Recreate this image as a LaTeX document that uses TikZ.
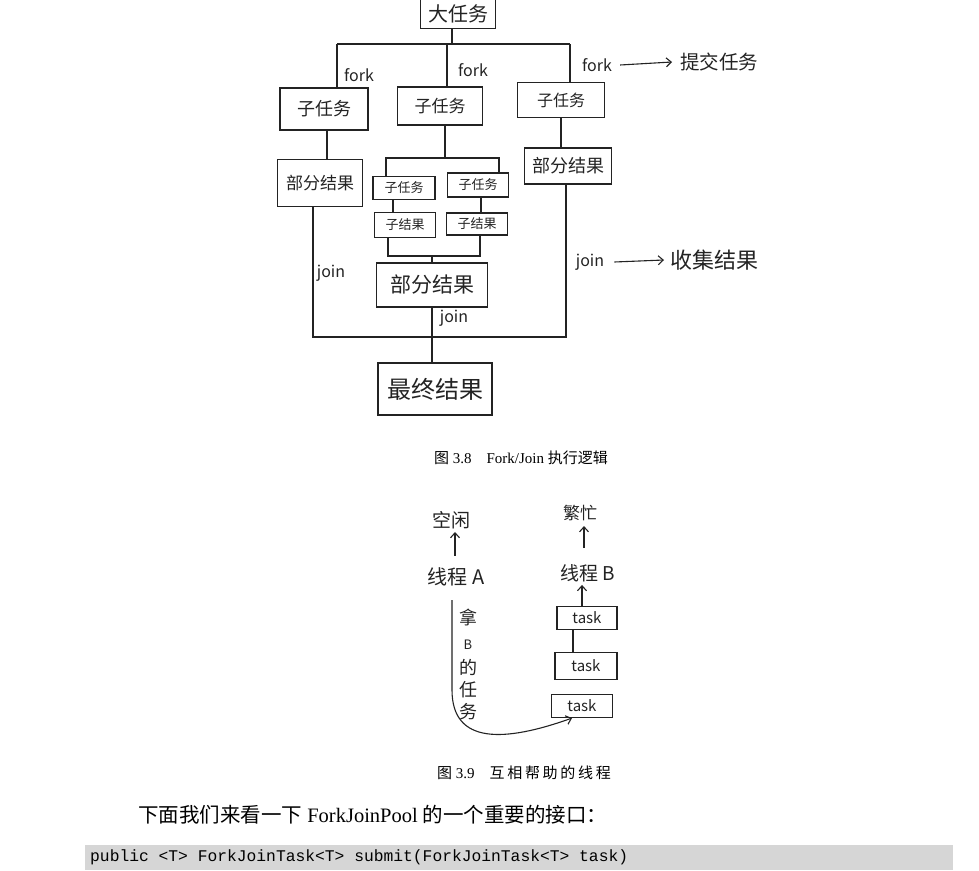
\documentclass[tikz,border=0pt]{standalone}
\usepackage{fontspec}
\setmainfont{Liberation Serif}
\setmonofont{Liberation Mono}
\newfontfamily\cjk{Noto Sans CJK SC}
\newfontfamily\cjkcap{Noto Sans CJK SC}[LetterSpace=18]
\usetikzlibrary{arrows.meta,calc}
\definecolor{ink}{RGB}{35,35,35}
\definecolor{band}{RGB}{214,214,214}
\newcommand\fsz[1]{\fontsize{#1}{#1}\selectfont}

\tikzset{
  wire/.style={draw=ink,line width=1.1pt},
  box/.style={draw=ink,line width=1.1pt,inner sep=0pt,text=ink},
  hand/.style={inner sep=0pt,text=ink},
  tip/.style={-{Straight Barb[length=5pt,width=9pt]}},
}

\begin{document}
\begin{tikzpicture}[x=1pt,y=-1pt]
\useasboundingbox (0,0) rectangle (979,870);

% ---------- Fork/Join ----------
% the big task box runs off the top edge of the page
\node[hand,minimum width=75pt,minimum height=28pt,font=\cjk\fsz{20}] (big) at (458,14) {大任务};
\draw[wire] ([yshift=20pt]big.north west) |- (big.south east) -- ([yshift=20pt]big.north east);
\coordinate (barL) at (337,44);
\coordinate (barR) at (570,44);
\draw[wire] (barL) -- (barR);
\draw[wire] ([xshift=-6pt]big.south) -- ([xshift=-6pt]big.south |- barL);

\node[box,minimum width=88pt,minimum height=42pt,font=\cjk\fsz{18}] (s1) at (324,109) {子任务};
\node[box,minimum width=85pt,minimum height=38pt,font=\cjk\fsz{17}] (s2) at (440,106) {子任务};
\node[box,minimum width=87pt,minimum height=35pt,font=\cjk\fsz{16}] (s3) at (561,100) {子任务};

\draw[wire] (barL) -- (barL |- s1.north);
\draw[wire] ([xshift=7pt]s2.north) -- ([xshift=7pt]s2.north |- barL);
\draw[wire] (barR) -- (barR |- s3.north);

\node[hand,font=\cjk\fsz{16}] (f1) at (359,75) {fork};
\node[hand,font=\cjk\fsz{16}] (f2) at (473,70) {fork};
\node[hand,font=\cjk\fsz{16}] (f3) at (597,65) {fork};
\node[hand,font=\cjk\fsz{19.5},anchor=west] (submit) at (680,62) {提交任务};
\draw[wire,tip] ([xshift=8pt]f3.east) -- ([xshift=-8pt]submit.west);

\node[box,minimum width=85pt,minimum height=47pt,font=\cjk\fsz{17}] (p1) at (320,183) {部分结果};
\node[box,minimum width=87pt,minimum height=36pt,font=\cjk\fsz{18}] (p3) at (568,166) {部分结果};
\draw[wire] ([xshift=3pt]s1.south) -- ([xshift=3pt]s1.south |- p1.north);
\draw[wire] (s3.south) -- (s3.south |- p3.north);

% inner fork of the middle sub-task
\node[box,minimum width=62pt,minimum height=23pt,font=\cjk\fsz{13}] (t1) at (404,188) {子任务};
\node[box,minimum width=61pt,minimum height=24pt,font=\cjk\fsz{13}] (t2) at (478,185) {子任务};
\node[box,minimum width=61pt,minimum height=25pt,font=\cjk\fsz{13}] (r1) at (405,225) {子结果};
\node[box,minimum width=61pt,minimum height=22pt,font=\cjk\fsz{13}] (r2) at (477,224) {子结果};
\coordinate (gTL) at (386,158);
\coordinate (gTR) at (499,158);
\draw[wire] ([xshift=5pt]s2.south) -- ([xshift=5pt]s2.south |- gTL);
\draw[wire] (gTL |- t1.north) -- (gTL) -- (gTR) -- (gTR |- t2.north);
\draw[wire] ([xshift=-11pt]t1.south) -- ([xshift=-11pt]t1.south |- r1.north);
\draw[wire] ([xshift=3pt]t2.south) -- ([xshift=3pt]t2.south |- r2.north);

\node[box,minimum width=111pt,minimum height=44pt,font=\cjk\fsz{21}] (pm) at (432,285) {部分结果};
\coordinate (bL) at (388,256);
\coordinate (bR) at (480,256);
\draw[wire] (bL |- r1.south) -- (bL) -- (bR) -- (bR |- r2.south);
\draw[wire] (bL -| pm.north) -- (pm.north);

% join
\node[box,minimum width=114pt,minimum height=52pt,font=\cjk\fsz{24}] (final) at (435,389) {最终结果};
\coordinate (jL) at (313,337);
\coordinate (jR) at (566,337);
\draw[wire] (jL |- p1.south) -- (jL) -- (jR) -- (jR |- p3.south);
\draw[wire] (pm.south) -- (pm.south |- final.north);

\node[hand,font=\cjk\fsz{16}] (j1) at (331,273) {join};
\node[hand,font=\cjk\fsz{16}] (j2) at (590,262) {join};
\node[hand,font=\cjk\fsz{16}] (j3) at (454,318) {join};
\node[hand,font=\cjk\fsz{22},anchor=west] (collect) at (670,260) {收集结果};
\draw[wire,tip] ([xshift=10pt]j2.east) -- ([xshift=-6pt]collect.west);

\node[font=\fsz{15}] (cap1) at (521,458) {{\cjk 图} 3.8\hspace{1em}Fork/Join {\cjk 执行逻辑}};

% ---------- work stealing ----------
\node[hand,font=\cjk\fsz{19}] (idle) at (451,520) {空闲};
\node[hand,font=\cjk\fsz{20}] (thA) at (456,577) {线程 A};
\node[hand,font=\cjk\fsz{17}] (busy) at (580,513) {繁忙};
\node[hand,font=\cjk\fsz{19}] (thB) at (588,573) {线程 B};
\draw[wire,tip,shorten <=12pt,shorten >=3pt] ([xshift=4pt]idle.south |- thA.north) -- ([xshift=4pt]idle.south);
\draw[wire,tip,shorten <=16pt,shorten >=5pt] ([xshift=4pt]busy.south |- thB.north) -- ([xshift=4pt]busy.south);

\node[box,minimum width=60pt,minimum height=23pt,font=\cjk\fsz{15}] (k1) at (587,618) {task};
\node[box,minimum width=62pt,minimum height=27pt,font=\cjk\fsz{15}] (k2) at (586,666) {task};
\node[box,minimum width=61pt,minimum height=23pt,font=\cjk\fsz{15}] (k3) at (582,706) {task};
\draw[wire,tip,shorten >=3pt] ([xshift=-5pt]k1.north) -- ([xshift=-5pt]k1.north |- thB.south);
\draw[wire] ([xshift=-14pt]k1.south) -- ([xshift=-14pt]k1.south |- k2.north);

\coordinate (steal) at (452,600);
\draw[wire,tip] (steal) -- (452,690) .. controls (452,745) and (505,742) .. ([xshift=-10pt]k3.south);

\node[hand,font=\cjk\fsz{18}] (v1) at (468,617) {拿};
\node[hand,font=\cjk\fsz{13}] (v2) at (468,645) {B};
\node[hand,font=\cjk\fsz{18}] (v3) at (468,667) {的};
\node[hand,font=\cjk\fsz{18}] (v4) at (468,690) {任};
\node[hand,font=\cjk\fsz{18}] (v5) at (468,712) {务};

\node[font=\fsz{15}] (cap2) at (524,773) {{\cjk 图} 3.9\hspace{1em}{\cjkcap 互相帮助的线程}};

% ---------- text and code line ----------
\node[anchor=west,inner sep=0pt,font=\fsz{20.5}] (para) at (138,815) {{\cjk 下面我们来看一下} ForkJoinPool {\cjk 的一个重要的接口：}};
\fill[band] (85,845) rectangle (953,870);
\node[anchor=west,inner sep=0pt,font=\ttfamily\fsz{16.3}] (code) at (90,857) {public <T> ForkJoinTask<T> submit(ForkJoinTask<T> task)};
\end{tikzpicture}
\end{document}
